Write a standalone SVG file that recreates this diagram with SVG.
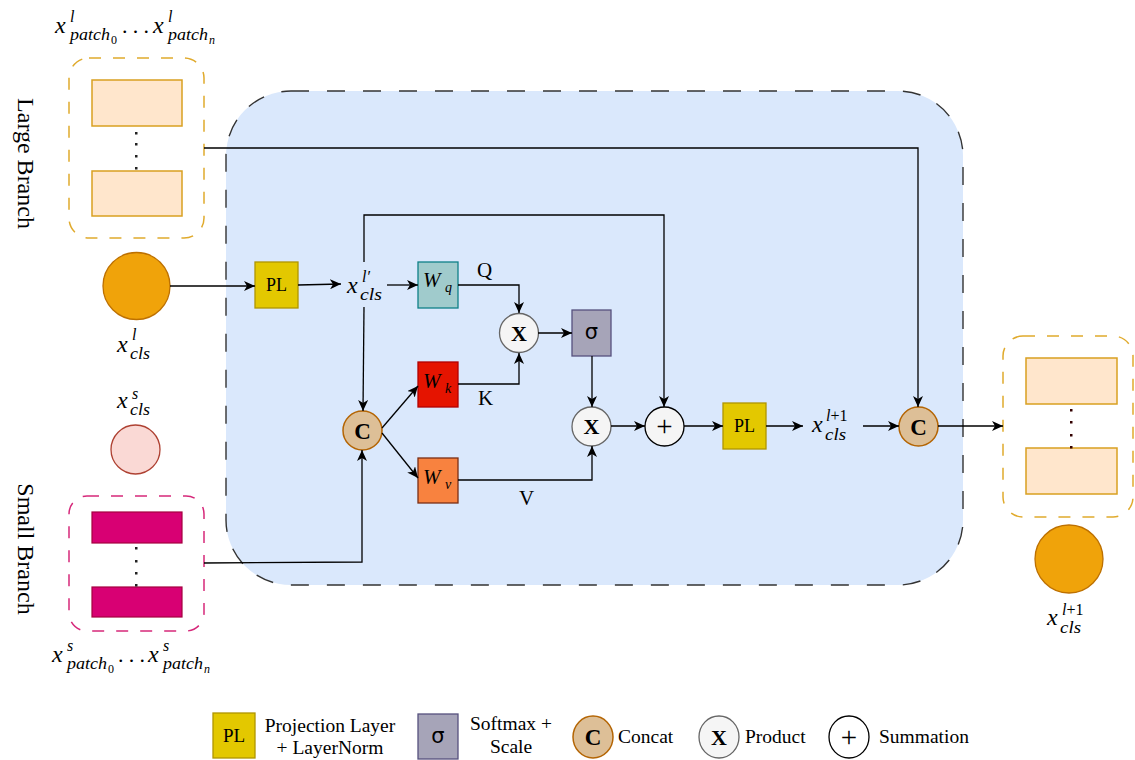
<svg xmlns="http://www.w3.org/2000/svg" width="1135" height="760" viewBox="0 0 1135 760">
<defs>
<marker id="arr" markerUnits="userSpaceOnUse" markerWidth="12" markerHeight="10" refX="11" refY="5" orient="auto">
<path d="M0,0 L11,5 L0,10 L3,5 Z" fill="#000"/>
</marker>
<style>
.serif{font-family:"Liberation Serif","Times New Roman",serif;fill:#000}
.mi{font-family:"Liberation Serif","Times New Roman",serif;font-style:italic;fill:#000}
.up{font-family:"Liberation Serif","Times New Roman",serif;font-style:normal;fill:#000}
.conn{fill:none;stroke:#000;stroke-width:1.3;marker-end:url(#arr)}
.line{fill:none;stroke:#000;stroke-width:1.3}
.patchL{fill:#ffe6cc;stroke:#d9a020;stroke-width:1.5}
.patchS{fill:#d80073;stroke:#a50040;stroke-width:1.2}
.pl{fill:#e3c800;stroke:#b09500;stroke-width:1.3}
.prod{fill:#f5f5f5;stroke:#666;stroke-width:1.3}
.cat{fill:#ddbf97;stroke:#b46504;stroke-width:1.5}
.sig{fill:#a6a4b8;stroke:#56517e;stroke-width:1.3}
.dot{fill:#222}
</style>
</defs>
<rect width="1135" height="760" fill="#fff"/>

<g id="main-block">
<rect x="226" y="91" width="737" height="494" rx="65" ry="65" fill="#dae8fc" stroke="#333" stroke-width="1.4" stroke-dasharray="18 18"/>
</g>

<g id="large-branch-label">
<text class="serif" font-size="24" text-anchor="middle" transform="translate(18,163.5) rotate(90)">Large Branch</text>
</g>
<g id="small-branch-label">
<text class="serif" font-size="24" text-anchor="middle" transform="translate(18,549) rotate(90)">Small Branch</text>
</g>

<g id="large-patches">
<rect x="69" y="58" width="135" height="180" rx="20" ry="20" fill="none" stroke="#e0aa2c" stroke-width="1.5" stroke-dasharray="12 12"/>
<rect class="patchL" x="92" y="80" width="90" height="46"/>
<rect class="patchL" x="92" y="171" width="90" height="45"/>
<rect class="dot" x="135" y="132" width="2.5" height="2.5"/>
<rect class="dot" x="135" y="143" width="2.5" height="2.5"/>
<rect class="dot" x="135" y="155" width="2.5" height="2.5"/>
<rect class="dot" x="135" y="167" width="2.5" height="2.5"/>
<text class="mi" font-size="24" x="55" y="33">x</text>
<text class="mi" font-size="16" x="70" y="22">l</text>
<text class="mi" font-size="16" x="70" y="40" textLength="40" lengthAdjust="spacingAndGlyphs">patch</text>
<text class="up" font-size="12" x="111" y="44">0</text>
<text class="up" font-size="22" x="122" y="33" textLength="27" lengthAdjust="spacing">...</text>
<text class="mi" font-size="24" x="153" y="33">x</text>
<text class="mi" font-size="16" x="168" y="22">l</text>
<text class="mi" font-size="16" x="168" y="40" textLength="40" lengthAdjust="spacingAndGlyphs">patch</text>
<text class="mi" font-size="12" x="209" y="44">n</text>
</g>

<g id="large-cls">
<circle cx="136.5" cy="286" r="33.5" fill="#f0a30a" stroke="#bd7000" stroke-width="1.3"/>
<text class="mi" font-size="24" x="117" y="352">x</text>
<text class="mi" font-size="16" x="132" y="340">l</text>
<text class="mi" font-size="16" x="130" y="359" textLength="20" lengthAdjust="spacingAndGlyphs">cls</text>
</g>

<g id="small-cls">
<circle cx="135.5" cy="449.5" r="24.5" fill="#fad9d5" stroke="#ae4132" stroke-width="1.3"/>
<text class="mi" font-size="24" x="117" y="408">x</text>
<text class="mi" font-size="16" x="132" y="399">s</text>
<text class="mi" font-size="16" x="130" y="415" textLength="20" lengthAdjust="spacingAndGlyphs">cls</text>
</g>

<g id="small-patches">
<rect x="69" y="496" width="135" height="135" rx="18" ry="18" fill="none" stroke="#d6287a" stroke-width="1.5" stroke-dasharray="12 12"/>
<rect class="patchS" x="92" y="512" width="90" height="31"/>
<rect class="patchS" x="92" y="587" width="90" height="30"/>
<rect class="dot" x="135" y="547" width="2.5" height="2.5"/>
<rect class="dot" x="135" y="560" width="2.5" height="2.5"/>
<rect class="dot" x="135" y="572" width="2.5" height="2.5"/>
<rect class="dot" x="135" y="584" width="2.5" height="2.5"/>
<text class="mi" font-size="24" x="52" y="662">x</text>
<text class="mi" font-size="16" x="67" y="651">s</text>
<text class="mi" font-size="16" x="67" y="669" textLength="40" lengthAdjust="spacingAndGlyphs">patch</text>
<text class="up" font-size="12" x="108" y="673">0</text>
<text class="up" font-size="22" x="118" y="662" textLength="27" lengthAdjust="spacing">...</text>
<text class="mi" font-size="24" x="148" y="662">x</text>
<text class="mi" font-size="16" x="163" y="651">s</text>
<text class="mi" font-size="16" x="163" y="669" textLength="40" lengthAdjust="spacingAndGlyphs">patch</text>
<text class="mi" font-size="12" x="204" y="673">n</text>
</g>

<g id="pl1">
<rect class="pl" x="255" y="262" width="43" height="46"/>
<text class="serif" font-size="18" x="276.5" y="291" text-anchor="middle">PL</text>
</g>

<g id="x-cls-prime">
<text class="mi" font-size="24" x="347" y="293">x</text>
<text class="mi" font-size="16" x="362" y="282">l′</text>
<text class="mi" font-size="16" x="360" y="300" textLength="22" lengthAdjust="spacingAndGlyphs">cls</text>
</g>

<g id="wq">
<rect x="418" y="262" width="40" height="46" fill="#a0cbcc" stroke="#0e8088" stroke-width="1.3"/>
<text class="mi" font-size="21" x="423" y="287">W</text>
<text class="mi" font-size="14" x="445" y="292">q</text>
</g>
<g id="wk">
<rect x="418" y="362" width="40" height="45" fill="#e51400" stroke="#b20000" stroke-width="1.3"/>
<text class="mi" font-size="21" x="423" y="388">W</text>
<text class="mi" font-size="14" x="445" y="393">k</text>
</g>
<g id="wv">
<rect x="418" y="458" width="40" height="45" fill="#f8823f" stroke="#7a2e14" stroke-width="1.3"/>
<text class="mi" font-size="21" x="423" y="484">W</text>
<text class="mi" font-size="14" x="445" y="489">v</text>
</g>

<g id="concat1">
<circle class="cat" cx="362.5" cy="430.5" r="19.5"/>
<text class="serif" font-size="23" font-weight="bold" x="362.5" y="438.5" text-anchor="middle">C</text>
</g>

<g id="product1">
<circle class="prod" cx="519" cy="333" r="19.5"/>
<text class="serif" font-size="22" font-weight="bold" x="519" y="340.5" text-anchor="middle">X</text>
</g>

<g id="softmax">
<rect class="sig" x="572" y="310" width="39" height="46"/>
<text font-family="DejaVu Sans, sans-serif" font-size="21" x="591.5" y="339" text-anchor="middle" fill="#000">σ</text>
</g>

<g id="product2">
<circle class="prod" cx="591.5" cy="426.5" r="19.5"/>
<text class="serif" font-size="22" font-weight="bold" x="591.5" y="434" text-anchor="middle">X</text>
</g>

<g id="sum">
<circle cx="664.5" cy="426.5" r="19.5" fill="#f5f5f5" stroke="#000" stroke-width="1.3"/>
<text class="serif" font-size="29" x="664.5" y="436" text-anchor="middle">+</text>
</g>

<g id="pl2">
<rect class="pl" x="723" y="403" width="43" height="46"/>
<text class="serif" font-size="18" x="744.5" y="432" text-anchor="middle">PL</text>
</g>

<g id="x-cls-next">
<text class="mi" font-size="24" x="812" y="432">x</text>
<text class="mi" font-size="16" x="826" y="421">l<tspan class="up">+1</tspan></text>
<text class="mi" font-size="16" x="825" y="440" textLength="21" lengthAdjust="spacingAndGlyphs">cls</text>
</g>

<g id="concat2">
<circle class="cat" cx="918.5" cy="426.5" r="19.5"/>
<text class="serif" font-size="23" font-weight="bold" x="918.5" y="434.5" text-anchor="middle">C</text>
</g>

<g id="output-patches">
<rect x="1003" y="336" width="130" height="181" rx="20" ry="20" fill="none" stroke="#e0aa2c" stroke-width="1.5" stroke-dasharray="12 12"/>
<rect class="patchL" x="1026" y="358" width="91" height="46"/>
<rect class="patchL" x="1026" y="448" width="91" height="46"/>
<rect x="1070" y="409" width="2.5" height="2.5" fill="#330000"/>
<rect x="1070" y="421" width="2.5" height="2.5" fill="#330000"/>
<rect x="1070" y="434" width="2.5" height="2.5" fill="#330000"/>
<rect x="1070" y="446" width="2.5" height="2.5" fill="#330000"/>
</g>

<g id="output-cls">
<circle cx="1069" cy="559" r="34" fill="#f0a30a" stroke="#bd7000" stroke-width="1.3"/>
<text class="mi" font-size="24" x="1047" y="625">x</text>
<text class="mi" font-size="16" x="1062" y="615">l<tspan class="up">+1</tspan></text>
<text class="mi" font-size="16" x="1060" y="633" textLength="21" lengthAdjust="spacingAndGlyphs">cls</text>
</g>

<g id="edge-labels">
<text class="serif" font-size="21" x="477" y="277">Q</text>
<text class="serif" font-size="21" x="478" y="405">K</text>
<text class="serif" font-size="21" x="519" y="505">V</text>
</g>

<g id="connectors">
<path class="line" d="M204,148 H918 V400"/>
<path class="conn" d="M918,399 V407"/>
<path class="conn" d="M170,286 L255,286"/>
<path class="conn" d="M298,285 L341,284"/>
<path class="conn" d="M387,285 L418,285"/>
<path class="conn" d="M458,285 H519 V313"/>
<path class="conn" d="M458,384 H519 V353"/>
<path class="conn" d="M538,333 L572,333"/>
<path class="conn" d="M592,356 V407"/>
<path class="conn" d="M458,480 H592 V446"/>
<path class="conn" d="M611,426 L645,426"/>
<path class="conn" d="M364,262 V215 H664 V407"/>
<path class="conn" d="M364,307 L363,411"/>
<path class="conn" d="M382,428 L418,386"/>
<path class="conn" d="M382,433 L418,478"/>
<path class="conn" d="M204,563 L362,562 V450"/>
<path class="conn" d="M684,426 L723,426"/>
<path class="conn" d="M766,426 L803,426"/>
<path class="conn" d="M863,426 L899,426"/>
<path class="conn" d="M938,426 L1003,426"/>
</g>

<g id="legend">
<g id="legend-pl">
<rect class="pl" x="213" y="713" width="42" height="45"/>
<text class="serif" font-size="19" x="234" y="742" text-anchor="middle">PL</text>
<text class="serif" font-size="19.5" x="330" y="732" text-anchor="middle">Projection Layer</text>
<text class="serif" font-size="19.5" x="330" y="754" text-anchor="middle">+ LayerNorm</text>
</g>
<g id="legend-softmax">
<rect class="sig" x="418" y="714" width="40" height="45"/>
<text font-family="DejaVu Sans, sans-serif" font-size="21" x="438" y="743" text-anchor="middle" fill="#000">σ</text>
<text class="serif" font-size="19.5" x="511" y="730" text-anchor="middle">Softmax +</text>
<text class="serif" font-size="19.5" x="511" y="753" text-anchor="middle">Scale</text>
</g>
<g id="legend-concat">
<ellipse class="cat" cx="593" cy="737" rx="20" ry="21"/>
<text class="serif" font-size="23" font-weight="bold" x="593" y="745" text-anchor="middle">C</text>
<text class="serif" font-size="19.5" x="618" y="743">Concat</text>
</g>
<g id="legend-product">
<ellipse class="prod" cx="719" cy="737" rx="20" ry="21"/>
<text class="serif" font-size="22" font-weight="bold" x="719" y="745" text-anchor="middle">X</text>
<text class="serif" font-size="19.5" x="745" y="743">Product</text>
</g>
<g id="legend-sum">
<ellipse cx="849" cy="737" rx="20" ry="21" fill="#fff" stroke="#000" stroke-width="1.3"/>
<text class="serif" font-size="29" x="849" y="747" text-anchor="middle">+</text>
<text class="serif" font-size="19.5" x="879" y="743">Summation</text>
</g>
</g>
</svg>
